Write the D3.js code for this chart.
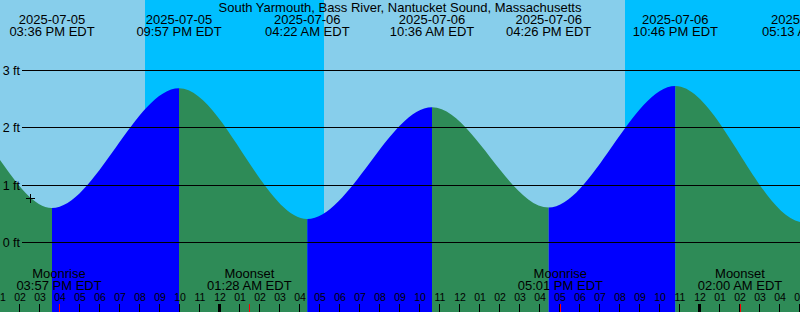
<!DOCTYPE html>
<html>
<head>
<meta charset="utf-8">
<script src="https://cdn.jsdelivr.net/npm/d3@7"></script>
<style>
html, body { margin: 0; padding: 0; background: #87ceeb; overflow: hidden; }
svg { display: block; font-family: "Liberation Sans", Arial, sans-serif; }
</style>
</head>
<body>
<svg id="chart"></svg>
<script>
"use strict";
// station + window (local EDT clock times)
var stationName = "South Yarmouth, Bass River, Nantucket Sound, Massachusetts";
var windowStart = "2025-07-05 13:00";
var windowEnd = "2025-07-07 05:00";

// tide highs / lows (first and last are just off the chart edges)
var tideTimes = ["2025-07-05 04:05", "2025-07-05 10:15", "2025-07-05 15:36", "2025-07-05 21:57",
                 "2025-07-06 04:22", "2025-07-06 10:36", "2025-07-06 16:26", "2025-07-06 22:46",
                 "2025-07-07 05:13", "2025-07-07 11:25"];
var tideLevels = [0.45, 2.35, 0.60, 2.69, 0.41, 2.36, 0.61, 2.73, 0.35, 2.40];

// sun and moon
var sunsetTimes = ["2025-07-05 20:15", "2025-07-06 20:15"];
var sunriseTimes = ["2025-07-06 05:12"];
var moonTimes = ["2025-07-05 15:57", "2025-07-06 01:28", "2025-07-06 17:01", "2025-07-07 02:00"];
var moonNames = ["Moonrise", "Moonset", "Moonrise", "Moonset"];

// level axis
var levelTicks = [0, 1, 2, 3];

// "now" marker
var nowTime = "2025-07-05 14:30";
var nowLevel = 0.78;

var width = 800, height = 312;
var colors = { day: "#87ceeb", night: "#00bfff", flood: "#0000ff", ebb: "#2e8b57", moon: "#ff0000" };

var parse = d3.utcParse("%Y-%m-%d %H:%M");
var fmtDate = d3.utcFormat("%Y-%m-%d");
var fmtTime = d3.utcFormat("%I:%M %p EDT");
var fmtHour = d3.utcFormat("%I");

var t0 = parse(windowStart), t1 = parse(windowEnd);
var x = d3.scaleUtc().domain([t0, t1]).range([0, width]);
var y = d3.scaleLinear().domain([0, 3]).range([242.5, 70.5]);

var tides = tideTimes.map(function (t, i) { return { time: parse(t), level: tideLevels[i] }; });

var svg = d3.select("#chart").attr("width", width).attr("height", height);

//sky: day / night bands
svg.append("rect").attr("width", width).attr("height", height).style("fill", colors.day);
var nights = [[parse(sunsetTimes[0]), parse(sunriseTimes[0])], [parse(sunsetTimes[1]), t1]];
svg.append("g").selectAll("rect").data(nights).enter().append("rect")
    .attr("x", function (d) { return x(d[0]); })
    .attr("width", function (d) { return x(d[1]) - x(d[0]); })
    .attr("y", 0).attr("height", height)
    .style("fill", colors.night);

//water
var area = d3.area()
    .curve(d3.curveMonotoneX)
    .x(function (d) { return x(d.time); })
    .y0(height)
    .y1(function (d) { return y(d.level); });
svg.append("clipPath").attr("id", "water")
    .append("path").attr("d", area(tides));
var spans = d3.pairs(tides);
svg.append("g").attr("clip-path", "url(#water)")
    .selectAll("rect").data(spans).enter().append("rect")
    .attr("x", function (d) { return x(d[0].time); })
    .attr("width", function (d) { return x(d[1].time) - x(d[0].time); })
    .attr("y", 0).attr("height", height)
    .style("fill", function (d) { return d[1].level > d[0].level ? colors.flood : colors.ebb; });

//level lines + labels
var grid = svg.append("g");
grid.selectAll("line").data(levelTicks).enter().append("line")
    .attr("x1", 22).attr("x2", width)
    .attr("y1", function (d) { return Math.floor(y(d)) + 0.5; })
    .attr("y2", function (d) { return Math.floor(y(d)) + 0.5; })
    .style("stroke", "#000").style("stroke-width", 1);
grid.selectAll("text").data(levelTicks).enter().append("text")
    .attr("x", 20)
    .attr("y", function (d) { return Math.floor(y(d)) + 4.5; })
    .attr("text-anchor", "end")
    .style("font-size", "12.5px")
    .text(function (d) { return d + " ft"; });

//now marker
var nx = Math.round(x(parse(nowTime))) + 0.5, ny = Math.round(y(nowLevel)) + 0.5;
svg.append("path")
    .attr("d", "M" + (nx - 4.5) + "," + ny + "H" + (nx + 4.5) + "M" + nx + "," + (ny - 4.5) + "V" + (ny + 4.5))
    .style("stroke", "#000").style("stroke-width", 1).style("fill", "none");

//title
svg.append("text")
    .attr("x", width / 2).attr("y", 12)
    .attr("text-anchor", "middle")
    .style("font-size", "13px")
    .text(stationName);

//tide event labels
var tideLabels = svg.append("g").selectAll("g").data(tides).enter().append("g")
    .attr("transform", function (d) { return "translate(" + [x(d.time), 0] + ")"; })
    .attr("text-anchor", "middle")
    .style("font-size", "13px");
tideLabels.append("text").attr("y", 24).text(function (d) { return fmtDate(d.time); });
tideLabels.append("text").attr("y", 36).text(function (d) { return fmtTime(d.time); });

//moon labels
var moons = moonTimes.map(function (t, i) { return { time: parse(t), name: moonNames[i] }; });
var moonLabels = svg.append("g").selectAll("g").data(moons).enter().append("g")
    .attr("transform", function (d) { return "translate(" + [x(d.time), 0] + ")"; })
    .attr("text-anchor", "middle")
    .style("font-size", "13px");
moonLabels.append("text").attr("y", 278).text(function (d) { return d.name; });
moonLabels.append("text").attr("y", 290).text(function (d) { return fmtTime(d.time); });

//hour axis
var hours = d3.utcHour.range(t0, d3.utcHour.offset(t1, 1));
var axis = svg.append("g");
axis.selectAll("text").data(hours).enter().append("text")
    .attr("x", function (d) { return x(d); })
    .attr("y", 300.5)
    .attr("text-anchor", "middle")
    .style("font-size", "10.5px")
    .text(function (d) { return fmtHour(d); });
axis.selectAll("rect").data(hours).enter().append("rect")
    .attr("x", function (d) { return d.getUTCHours() === 0 ? Math.round(x(d)) - 2 : Math.round(x(d)) - 1; })
    .attr("width", function (d) { return d.getUTCHours() === 0 ? 3 : 1; })
    .attr("y", 304).attr("height", 8)
    .style("fill", "#000");
axis.selectAll("line.moon").data(moons).enter().append("line")
    .classed("moon", true)
    .attr("x1", function (d) { return Math.floor(x(d.time)) + 0.5; })
    .attr("x2", function (d) { return Math.floor(x(d.time)) + 0.5; })
    .attr("y1", 304).attr("y2", height)
    .style("stroke", colors.moon).style("stroke-width", 1);
</script>
</body>
</html>
